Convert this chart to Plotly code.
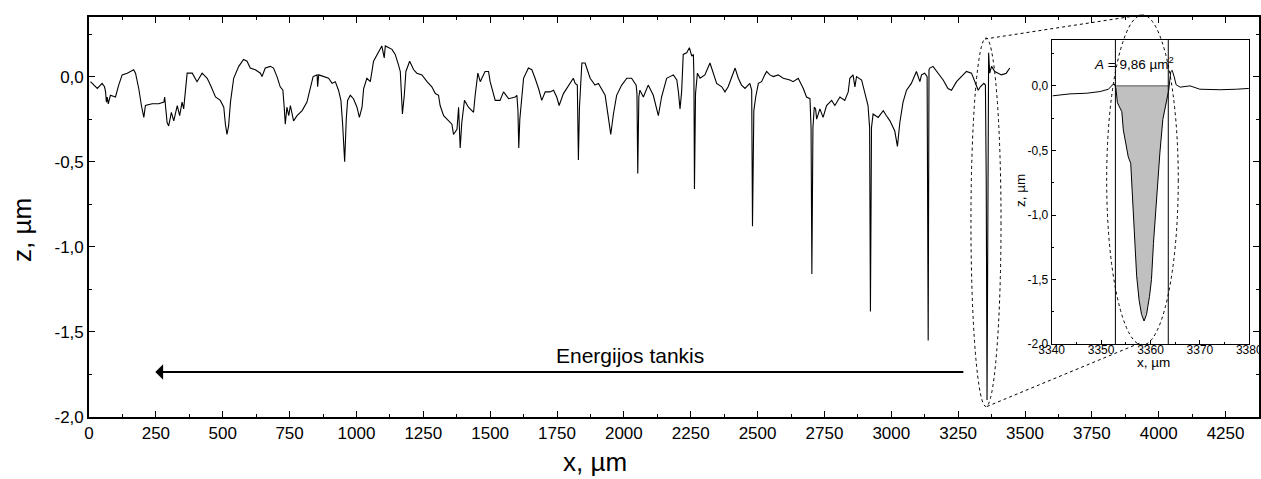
import plotly.graph_objects as go

# ---------------- main profile data (x in µm, z in µm) ----------------
x_main = [5.6, 18, 31, 49, 58, 62, 65, 68, 72, 80, 99, 111, 124, 143, 167, 174, 186, 196, 205, 211,
          236, 261, 280, 283, 292, 298, 308, 317, 330, 339, 348, 354, 361, 367, 386, 404, 423, 442, 454, 473,
          491, 504, 510, 516, 522, 529, 541, 560, 578, 591, 603, 622, 641, 647, 659, 678, 690, 703, 715, 725,
          730, 734, 740, 747, 753, 759, 765, 778, 797, 815, 828, 838, 853, 855, 859, 877, 896, 909, 921, 933,
          942, 948, 956, 962, 967, 977, 989, 1002, 1011, 1021, 1027, 1039, 1052, 1064, 1083, 1095, 1104, 1108, 1133, 1145,
          1157, 1164, 1172, 1179, 1185, 1199, 1214, 1226, 1245, 1264, 1282, 1295, 1307, 1313, 1326, 1344, 1357, 1363, 1376, 1382,
          1388, 1394, 1404, 1419, 1438, 1444, 1454, 1463, 1481, 1494, 1500, 1519, 1537, 1550, 1569, 1594, 1600, 1604, 1607, 1611,
          1616, 1625, 1643, 1656, 1668, 1681, 1693, 1706, 1724, 1737, 1749, 1758, 1774, 1793, 1811, 1818, 1826, 1830, 1834, 1843,
          1855, 1874, 1892, 1905, 1930, 1942, 1951, 1961, 1973, 1992, 2011, 2029, 2046, 2049, 2052, 2056, 2060, 2073, 2091, 2110,
          2129, 2141, 2160, 2185, 2198, 2204, 2210, 2216, 2222, 2235, 2245, 2254, 2260, 2262, 2264, 2268, 2275, 2285, 2303, 2322,
          2334, 2347, 2366, 2378, 2390, 2403, 2416, 2428, 2440, 2453, 2471, 2478, 2481, 2486, 2493, 2503, 2515, 2527, 2534, 2546,
          2559, 2577, 2596, 2621, 2633, 2652, 2671, 2683, 2696, 2700, 2703, 2707, 2712, 2717, 2721, 2733, 2745, 2758, 2777, 2789,
          2808, 2826, 2839, 2845, 2857, 2864, 2870, 2889, 2901, 2913, 2919, 2922, 2926, 2932, 2951, 2970, 2982, 2995, 3013, 3023,
          3032, 3044, 3057, 3075, 3094, 3107, 3113, 3125, 3134, 3138, 3141, 3144, 3156, 3175, 3194, 3212, 3225, 3244, 3268, 3281,
          3300, 3312, 3325, 3333, 3346, 3352, 3355, 3358, 3361, 3364, 3368, 3375, 3387, 3399, 3412, 3430, 3443]
z_main = [-0.03, -0.05, -0.07, -0.04, -0.06, -0.09, -0.15, -0.12, -0.16, -0.11, -0.12, -0.05, 0.01, 0.02, 0.04, 0.02, -0.07, -0.17, -0.24, -0.17,
          -0.16, -0.16, -0.15, -0.12, -0.27, -0.29, -0.21, -0.26, -0.17, -0.23, -0.15, -0.19, -0.05, 0.02, 0.02, -0.03, 0.02, -0.01, -0.05, -0.12,
          -0.14, -0.18, -0.28, -0.34, -0.29, -0.15, -0.01, 0.06, 0.10, 0.09, 0.05, 0.04, 0.02, 0.0, 0.05, 0.06, 0.05, 0.0, -0.06, -0.08,
          -0.18, -0.28, -0.18, -0.23, -0.17, -0.22, -0.26, -0.23, -0.20, -0.15, -0.07, 0.0, 0.01, -0.06, 0.01, 0.0, -0.01, -0.04, -0.03, -0.08,
          -0.14, -0.27, -0.50, -0.25, -0.14, -0.11, -0.13, -0.18, -0.24, -0.18, -0.07, -0.01, -0.03, 0.09, 0.15, 0.18, 0.11, 0.18, 0.16, 0.13,
          0.07, 0.03, -0.22, -0.11, 0.03, 0.09, 0.04, 0.02, 0.01, -0.03, -0.06, -0.10, -0.11, -0.17, -0.23, -0.26, -0.28, -0.34, -0.31, -0.18,
          -0.42, -0.27, -0.14, -0.18, -0.21, -0.11, 0.02, -0.03, 0.03, 0.03, -0.03, -0.14, -0.14, -0.09, -0.13, -0.12, -0.11, -0.20, -0.42, -0.25,
          -0.15, -0.01, 0.05, 0.04, -0.01, -0.07, -0.14, -0.09, -0.09, -0.08, -0.12, -0.17, -0.10, -0.05, -0.01, -0.04, -0.05, -0.49, -0.18, 0.08,
          0.08, -0.01, -0.05, -0.04, -0.11, -0.24, -0.34, -0.22, -0.11, -0.05, -0.01, -0.01, -0.05, -0.10, -0.57, -0.12, -0.08, -0.12, -0.05, -0.11,
          -0.23, -0.12, -0.01, 0.01, -0.02, -0.09, -0.19, -0.09, 0.13, 0.14, 0.17, 0.12, 0.13, 0.0, -0.66, -0.10, 0.02, -0.01, 0.01, 0.08,
          0.02, -0.04, -0.06, -0.09, -0.06, 0.0, 0.05, -0.01, -0.05, -0.07, -0.04, -0.08, -0.88, -0.20, -0.12, -0.04, -0.03, 0.01, 0.03, 0.01,
          0.0, 0.01, -0.01, -0.02, -0.03, -0.01, -0.07, -0.12, -0.13, -0.30, -1.16, -0.30, -0.18, -0.19, -0.25, -0.19, -0.24, -0.17, -0.14, -0.17,
          -0.12, -0.14, -0.09, -0.01, 0.01, -0.06, 0.0, -0.02, -0.10, -0.17, -0.30, -1.38, -0.30, -0.22, -0.24, -0.20, -0.23, -0.26, -0.32, -0.41,
          -0.27, -0.15, -0.08, -0.04, 0.03, -0.03, 0.01, 0.02, 0.0, -1.55, 0.04, 0.05, 0.06, 0.02, -0.02, -0.07, -0.08, -0.03, 0.01, 0.03,
          0.02, -0.03, -0.08, -0.06, -0.04, -0.05, -0.60, -1.90, -0.50, 0.14, 0.02, 0.06, 0.03, 0.02, 0.01, 0.02, 0.05]

# ---------------- inset profile data ----------------
x_inset = [3340.2, 3343.7, 3347.1, 3349.8, 3351.5, 3352.3, 3352.7, 3353.0, 3353.3, 3353.8, 3354.2, 3354.5, 3355.0, 3355.5,
           3356.0, 3356.2, 3356.5, 3356.9, 3357.2, 3357.7, 3358.2, 3358.7, 3359.2, 3359.8, 3360.2, 3360.6, 3361.3, 3361.9,
           3362.5, 3362.9, 3363.4, 3363.7, 3364.1, 3364.4, 3364.8, 3365.2, 3366.0, 3368.0, 3370.0, 3374.1, 3377.4, 3379.9]
z_inset = [-0.077, -0.062, -0.057, -0.044, -0.026, 0.008, 0.015, -0.018, -0.13, -0.17, -0.20, -0.34, -0.44, -0.55,
           -0.60, -0.75, -1.01, -1.27, -1.47, -1.66, -1.77, -1.82, -1.77, -1.63, -1.50, -1.22, -0.83, -0.52,
           -0.26, -0.19, -0.11, -0.03, 0.11, 0.12, 0.07, 0.008, -0.01, 0.0, -0.026, -0.03, -0.026, -0.02]
area_bounds = [3352.9, 3363.6]
area_label = "<i>A</i> = 9,86 µm<sup>2</sup>"

# ---------------- ticks ----------------
x_tickvals = list(range(0, 4251, 250))
x_ticktext = [str(v) for v in x_tickvals]
y_tickvals = [0.0, -0.5, -1.0, -1.5, -2.0]
y_ticktext = ["0,0", "-0,5", "-1,0", "-1,5", "-2,0"]
xi_tickvals = [3340, 3350, 3360, 3370, 3380]
xi_ticktext = [str(v) for v in xi_tickvals]

FONT = "Arial, Liberation Sans, sans-serif"

fig = go.Figure()
fig.add_trace(go.Scatter(x=x_main, y=z_main, mode="lines",
                         line=dict(color="black", width=1.1), xaxis="x", yaxis="y",
                         showlegend=False, hoverinfo="skip"))

# inset fill (area under z=0 between bounds)
lo, hi = area_bounds
fx = [lo] + [x for x in x_inset if lo < x < hi] + [hi]
fz = [0.0] + [z for x, z in zip(x_inset, z_inset) if lo < x < hi] + [0.0]
fig.add_trace(go.Scatter(x=fx + [lo], y=fz + [0.0], mode="lines", fill="toself",
                         fillcolor="#c0c0c0", line=dict(width=0, color="#c0c0c0"),
                         xaxis="x2", yaxis="y2", showlegend=False, hoverinfo="skip"))
fig.add_trace(go.Scatter(x=[lo, hi], y=[0, 0], mode="lines", line=dict(color="#555555", width=1),
                         xaxis="x2", yaxis="y2", showlegend=False, hoverinfo="skip"))
for b in area_bounds:
    fig.add_trace(go.Scatter(x=[b, b], y=[-2.0, 0.355], mode="lines", line=dict(color="black", width=1),
                             xaxis="x2", yaxis="y2", showlegend=False, hoverinfo="skip"))
fig.add_trace(go.Scatter(x=x_inset, y=z_inset, mode="lines", line=dict(color="black", width=1),
                         xaxis="x2", yaxis="y2", showlegend=False, hoverinfo="skip"))

axis_common = dict(showgrid=False, zeroline=False, showline=True, linecolor="black", automargin=False,
                   ticks="inside", tickcolor="black", mirror="allticks")

fig.update_layout(
    width=1261, height=479,
    margin=dict(l=89, r=2, t=17, b=62, autoexpand=False),
    paper_bgcolor="white", plot_bgcolor="white",
    font=dict(family=FONT, color="black"),
    xaxis=dict(**axis_common, range=[0, 4375], linewidth=1.6, ticklen=6, tickwidth=1.2,
               tickvals=x_tickvals, ticktext=x_ticktext, tickfont=dict(size=17),
               minor=dict(ticklen=3, dtick=125, tick0=0, ticks="inside", tickcolor="black")),
    yaxis=dict(**axis_common, range=[-2.0, 0.35], linewidth=1.6, ticklen=6, tickwidth=1.2,
               tickvals=y_tickvals, ticktext=y_ticktext, tickfont=dict(size=17),
               minor=dict(ticklen=3, dtick=0.25, tick0=0, ticks="inside", tickcolor="black")),
    xaxis2=dict(showgrid=False, zeroline=False, showline=True, linecolor="black", mirror=True, automargin=False,
                ticks="inside", tickcolor="black", ticklen=4, linewidth=1,
                domain=[0.8228, 0.9917], anchor="y2", range=[3340, 3380],
                tickvals=xi_tickvals, ticktext=xi_ticktext, tickfont=dict(size=12),
                ticklabelstandoff=-6, ticklabeloverflow="allow",
                minor=dict(ticklen=2, dtick=5, tick0=3340, ticks="inside", tickcolor="black")),
    yaxis2=dict(showgrid=False, zeroline=False, showline=True, linecolor="black", mirror=True, automargin=False,
                ticks="inside", tickcolor="black", ticklen=4, linewidth=1,
                domain=[0.1818, 0.9425], anchor="x2", range=[-2.0, 0.355],
                tickvals=y_tickvals, ticktext=y_ticktext, tickfont=dict(size=12),
                ticklabeloverflow="allow",
                minor=dict(ticklen=2, dtick=0.25, tick0=0, ticks="inside", tickcolor="black")),
)

ctr = dict(xanchor="center", yanchor="middle", showarrow=False)
# axis titles as annotations (paper coords)
fig.add_annotation(x=0.4325, y=-0.1125, xref="paper", yref="paper", text="x, µm",
                   font=dict(size=26, family=FONT), **ctr)
fig.add_annotation(x=-0.0573, y=0.4675, xref="paper", yref="paper", text="z, µm",
                   textangle=-90, font=dict(size=26, family=FONT), **ctr)
fig.add_annotation(x=0.9097, y=0.1375, xref="paper", yref="paper", text="x, µm",
                   font=dict(size=13.5, family=FONT), **ctr)
fig.add_annotation(x=0.7957, y=0.5675, xref="paper", yref="paper", text="z, µm",
                   textangle=-90, font=dict(size=13.5, family=FONT), **ctr)

# arrow and its label
fig.add_annotation(x=248, y=-1.736, ax=3275, ay=-1.736, xref="x", yref="y", axref="x", ayref="y",
                   text="", showarrow=True, arrowhead=1, arrowsize=1.3, arrowwidth=2, arrowcolor="black")
fig.add_annotation(x=2024, y=-1.636, xref="x", yref="y", text="Energijos tankis",
                   font=dict(size=21, family=FONT), **ctr)
fig.add_annotation(x=3356.7, y=0.175, xref="x2", yref="y2", text=area_label,
                   font=dict(size=13.5, family=FONT), **ctr)

# dotted ellipses and connectors (paper coordinates)
dot = dict(color="black", width=1, dash="dot")
fig.add_shape(type="circle", xref="paper", yref="paper", x0=0.7538, x1=0.7795, y0=0.02625, y1=0.9475, line=dot)
fig.add_shape(type="circle", xref="paper", yref="paper", x0=0.8698, x1=0.9310, y0=0.18, y1=1.005, line=dot)
fig.add_shape(type="line", xref="paper", yref="paper", x0=0.7658, y0=0.945, x1=0.8991, y1=1.005, line=dot)
fig.add_shape(type="line", xref="paper", yref="paper", x0=0.7675, y0=0.02625, x1=0.8983, y1=0.185, line=dot)

fig.write_html("out.html")
